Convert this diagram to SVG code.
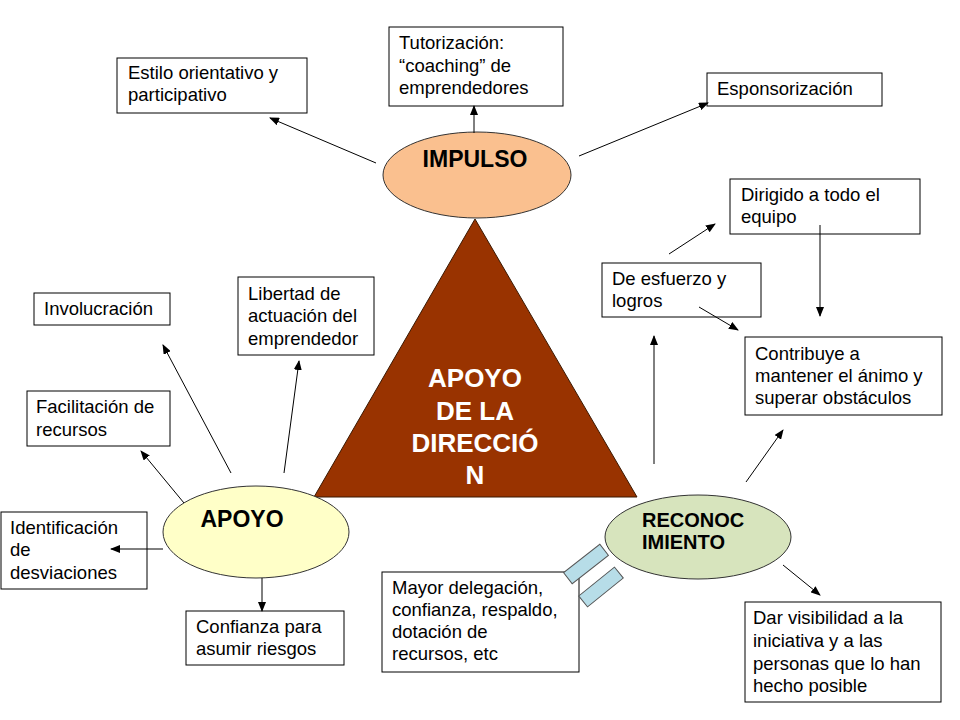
<svg xmlns="http://www.w3.org/2000/svg" width="960" height="720" viewBox="0 0 960 720">
<defs>
<marker id="ah" markerWidth="10" markerHeight="8" refX="9" refY="4" orient="auto" markerUnits="userSpaceOnUse">
<path d="M0,0 L10,4 L0,8 Z" fill="#000"/>
</marker>
<style>
.box{fill:#fff;stroke:#000;stroke-width:1}
.t{font-family:"Liberation Sans",Arial,sans-serif;font-size:18.5px;fill:#000}
.b{font-family:"Liberation Sans",Arial,sans-serif;font-weight:bold;fill:#000}
.w{font-family:"Liberation Sans",Arial,sans-serif;font-weight:bold;font-size:26px;fill:#fff}
.c{fill:none;stroke:#000;stroke-width:1;marker-end:url(#ah)}
.ell{stroke:#333;stroke-width:1}
.bar{fill:#B7DDE8;stroke:#555;stroke-width:1}
</style>
</defs>
<rect width="960" height="720" fill="#fff"/>

<g id="triangle">
<polygon points="475,219 314,497 637,497" fill="#993300" stroke="#3a1800" stroke-width="1"/>
<text class="w" text-anchor="middle"><tspan x="475" y="387">APOYO</tspan><tspan x="475" y="420">DE LA</tspan><tspan x="475" y="452">DIRECCIÓ</tspan><tspan x="475" y="484">N</tspan></text>
</g>

<g id="impulso">
<ellipse class="ell" cx="477" cy="175" rx="94" ry="43" fill="#FAC08F"/>
<text class="b" x="475" y="167" font-size="23" text-anchor="middle">IMPULSO</text>
</g>

<g id="apoyo">
<ellipse class="ell" cx="256" cy="532" rx="93" ry="46" fill="#FFFFC8"/>
<text class="b" x="242" y="527" font-size="23" text-anchor="middle">APOYO</text>
</g>

<g id="reconocimiento">
<ellipse class="ell" cx="698" cy="537" rx="93" ry="42" fill="#D7E4BD"/>
<text class="b" font-size="20"><tspan x="642" y="527">RECONOC</tspan><tspan x="642" y="549">IMIENTO</tspan></text>
</g>

<g id="tutorizacion">
<rect class="box" x="389" y="27" width="174" height="79"/>
<text class="t"><tspan x="399" y="49">Tutorización:</tspan><tspan x="399" y="72">“coaching” de</tspan><tspan x="399" y="94">emprendedores</tspan></text>
</g>

<g id="esponsorizacion">
<rect class="box" x="707" y="73" width="175" height="33"/>
<text class="t" x="717" y="95">Esponsorización</text>
</g>

<g id="estilo">
<rect class="box" x="117" y="58" width="190" height="55"/>
<text class="t"><tspan x="128" y="79">Estilo orientativo y</tspan><tspan x="128" y="101">participativo</tspan></text>
</g>

<g id="dirigido">
<rect class="box" x="730" y="179" width="190" height="55"/>
<text class="t"><tspan x="741" y="201">Dirigido a todo el</tspan><tspan x="741" y="223">equipo</tspan></text>
</g>

<g id="esfuerzo">
<rect class="box" x="602" y="263" width="159" height="54"/>
<text class="t"><tspan x="612" y="285">De esfuerzo y</tspan><tspan x="612" y="307">logros</tspan></text>
</g>

<g id="contribuye">
<rect class="box" x="745" y="337" width="197" height="78"/>
<text class="t"><tspan x="755" y="360">Contribuye a</tspan><tspan x="755" y="382">mantener el ánimo y</tspan><tspan x="755" y="404">superar obstáculos</tspan></text>
</g>

<g id="visibilidad">
<rect class="box" x="745" y="602" width="196" height="100"/>
<text class="t"><tspan x="753" y="624">Dar visibilidad a la</tspan><tspan x="753" y="647">iniciativa y a las</tspan><tspan x="753" y="670">personas que lo han</tspan><tspan x="753" y="692">hecho posible</tspan></text>
</g>

<g id="delegacion">
<rect class="box" x="382" y="572" width="197" height="100"/>
<text class="t"><tspan x="392" y="594">Mayor delegación,</tspan><tspan x="392" y="616">confianza, respaldo,</tspan><tspan x="392" y="638">dotación de</tspan><tspan x="392" y="660">recursos, etc</tspan></text>
</g>

<g id="involucracion">
<rect class="box" x="34" y="293" width="136" height="32"/>
<text class="t" x="44" y="315">Involucración</text>
</g>

<g id="libertad">
<rect class="box" x="238" y="277" width="136" height="78"/>
<text class="t"><tspan x="248" y="300">Libertad de</tspan><tspan x="248" y="322">actuación del</tspan><tspan x="248" y="345">emprendedor</tspan></text>
</g>

<g id="facilitacion">
<rect class="box" x="27" y="391" width="143" height="55"/>
<text class="t"><tspan x="36" y="413">Facilitación de</tspan><tspan x="36" y="436">recursos</tspan></text>
</g>

<g id="identificacion">
<rect class="box" x="1" y="512" width="146" height="77"/>
<text class="t"><tspan x="10" y="534">Identificación</tspan><tspan x="10" y="556">de</tspan><tspan x="10" y="579">desviaciones</tspan></text>
</g>

<g id="confianza">
<rect class="box" x="186" y="611" width="158" height="54"/>
<text class="t"><tspan x="196" y="633">Confianza para</tspan><tspan x="196" y="655">asumir riesgos</tspan></text>
</g>

<g id="bars">
<rect class="bar" x="-23" y="-7" width="46" height="14" transform="translate(586,564) rotate(-38)"/>
<rect class="bar" x="-23" y="-7" width="46" height="14" transform="translate(601,587) rotate(-39)"/>
</g>

<g id="connectors">
<line class="c" x1="474" y1="133" x2="474" y2="106"/>
<line class="c" x1="579" y1="156" x2="708" y2="103"/>
<line class="c" x1="376" y1="163" x2="270" y2="118"/>
<line class="c" x1="669" y1="254" x2="715" y2="224"/>
<line class="c" x1="820" y1="225" x2="820" y2="316"/>
<line class="c" x1="699" y1="307" x2="738" y2="330"/>
<line class="c" x1="654" y1="464" x2="654" y2="336"/>
<line class="c" x1="746" y1="482" x2="783" y2="430"/>
<line class="c" x1="783" y1="565" x2="820" y2="595"/>
<line class="c" x1="231" y1="473" x2="163" y2="345"/>
<line class="c" x1="284" y1="473" x2="299" y2="361"/>
<line class="c" x1="184" y1="503" x2="141" y2="451"/>
<line class="c" x1="163" y1="549" x2="111" y2="549"/>
<line class="c" x1="262" y1="578" x2="262" y2="611"/>
</g>
</svg>
